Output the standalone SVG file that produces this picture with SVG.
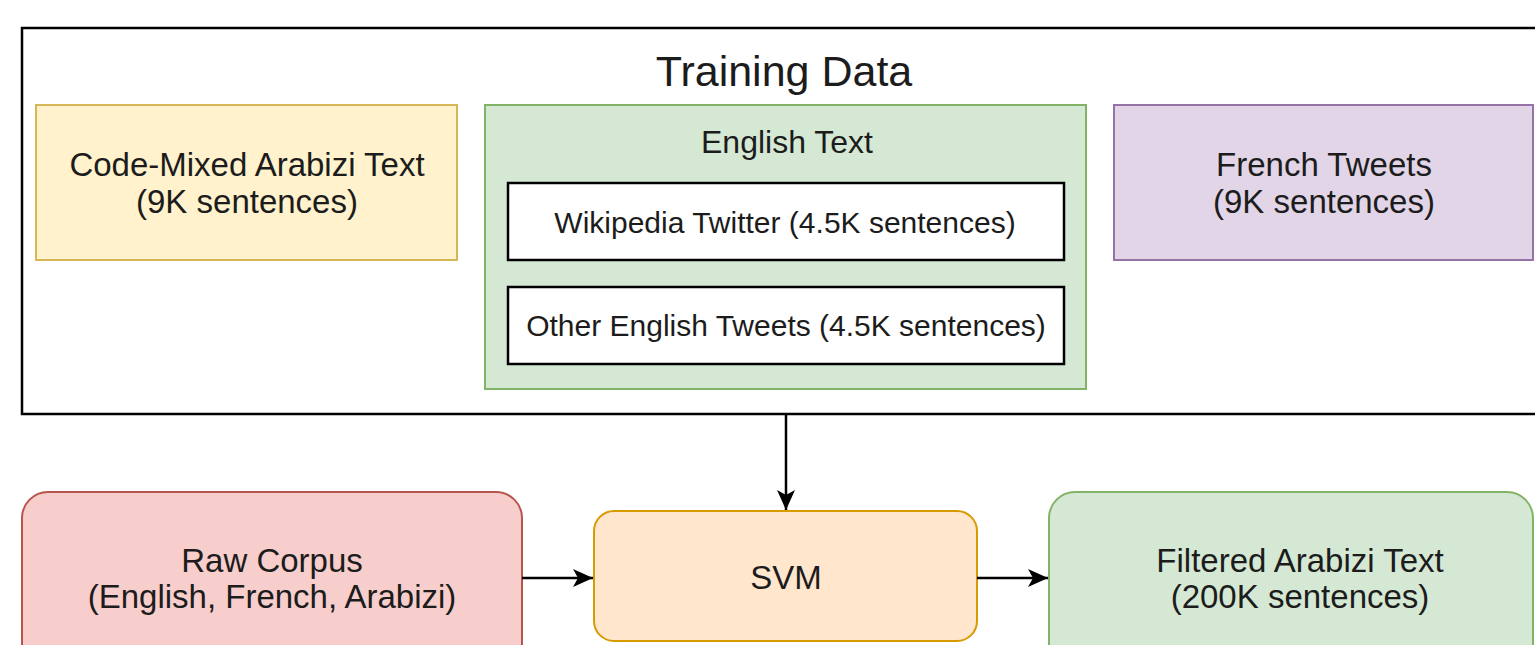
<svg xmlns="http://www.w3.org/2000/svg" width="1535" height="645" viewBox="0 0 1535 645">
<style>
text{font-family:"Liberation Sans",Arial,sans-serif;fill:#1c1c1c;text-anchor:middle}
.t33{font-size:33px}
.t30{font-size:30px}
.t32{font-size:32px}
.edge{stroke:#000;stroke-width:2.5;fill:none}
</style>
<defs>
<marker id="arr" viewBox="0 0 10 10" refX="10" refY="5" markerWidth="8" markerHeight="8" markerUnits="userSpaceOnUse" orient="auto">
<path d="M0,0 L10,5 L0,10 L2.5,5 Z" fill="#000"/>
</marker>
<marker id="ah" viewBox="0 0 20 20" refX="20" refY="10" markerWidth="20" markerHeight="20" markerUnits="userSpaceOnUse" orient="auto">
<path d="M0,1 L20,10 L0,19 L5,10 Z" fill="#000"/>
</marker>
</defs>
<rect width="1535" height="645" fill="#fff"/>
<g id="training-data">
<rect x="22" y="28" width="1530" height="386" fill="#fff" stroke="#000" stroke-width="2.5"/>
<text x="784" y="86" style="font-size:43px">Training Data</text>
</g>
<g id="code-mixed">
<rect x="36" y="105" width="421" height="155" fill="#fff2cc" stroke="#d6b656" stroke-width="2"/>
<text class="t33" x="247" y="176">Code-Mixed Arabizi Text</text>
<text class="t33" x="247" y="213">(9K sentences)</text>
</g>
<g id="english-text">
<rect x="485" y="105" width="601" height="284" fill="#d5e8d4" stroke="#82b366" stroke-width="2"/>
<text class="t32" x="787" y="153">English Text</text>
</g>
<g id="wikipedia">
<rect x="508" y="183" width="556" height="77" fill="#fff" stroke="#000" stroke-width="2.5"/>
<text class="t30" x="785" y="233">Wikipedia Twitter (4.5K sentences)</text>
</g>
<g id="other-english">
<rect x="508" y="287" width="556" height="77" fill="#fff" stroke="#000" stroke-width="2.5"/>
<text class="t30" x="786" y="336">Other English Tweets (4.5K sentences)</text>
</g>
<g id="french">
<rect x="1114" y="105" width="419" height="155" fill="#e1d5e7" stroke="#9673a6" stroke-width="2"/>
<text class="t33" x="1324" y="176">French Tweets</text>
<text class="t33" x="1324" y="213">(9K sentences)</text>
</g>
<g id="raw-corpus">
<rect x="22" y="492" width="500" height="200" rx="26" ry="26" fill="#f8cecc" stroke="#b85450" stroke-width="2"/>
<text class="t33" x="272" y="572">Raw Corpus</text>
<text class="t33" x="272" y="608">(English, French, Arabizi)</text>
</g>
<g id="svm">
<rect x="594" y="511" width="383" height="130" rx="20" ry="20" fill="#ffe6cc" stroke="#d79b00" stroke-width="2"/>
<text class="t33" x="786" y="589">SVM</text>
</g>
<g id="filtered">
<rect x="1049" y="492" width="484" height="200" rx="26" ry="26" fill="#d5e8d4" stroke="#82b366" stroke-width="2"/>
<text class="t33" x="1300" y="572">Filtered Arabizi Text</text>
<text class="t33" x="1300" y="608">(200K sentences)</text>
</g>
<g id="connectors">
<line class="edge" x1="786" y1="415" x2="786" y2="510" marker-end="url(#ah)"/>
<line class="edge" x1="522" y1="578" x2="593" y2="578" marker-end="url(#ah)"/>
<line class="edge" x1="977" y1="578" x2="1048" y2="578" marker-end="url(#ah)"/>
</g>
</svg>
